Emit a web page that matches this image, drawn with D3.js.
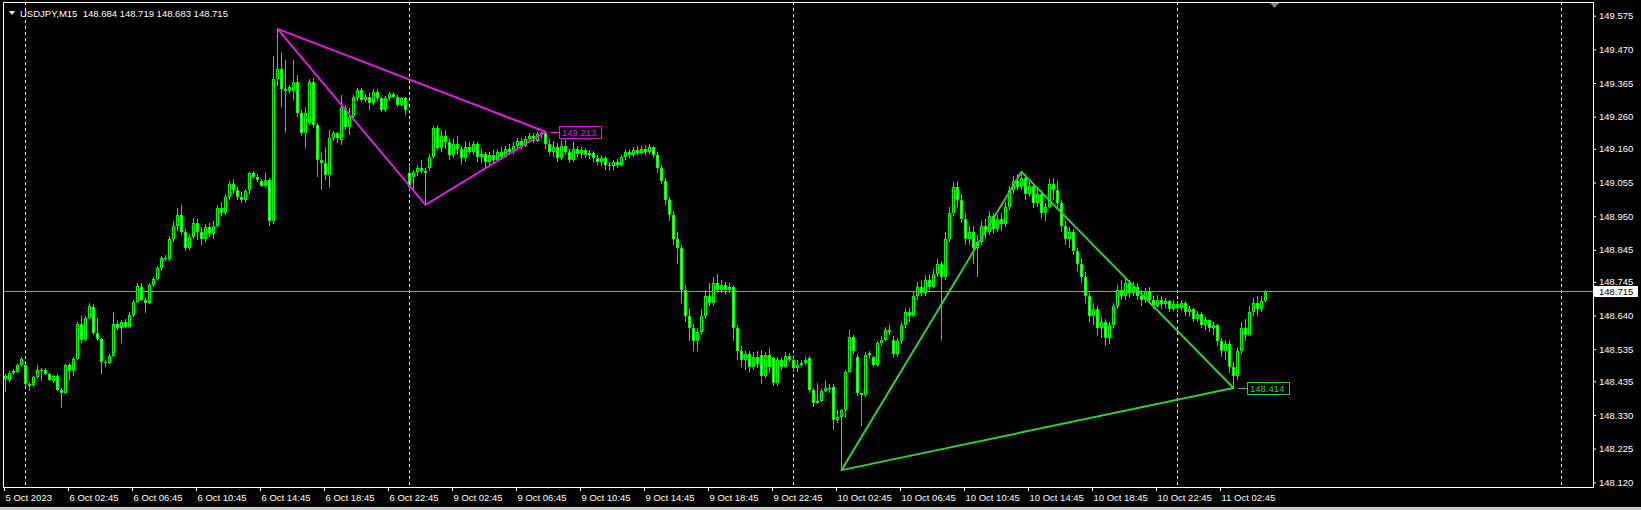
<!DOCTYPE html>
<html><head><meta charset="utf-8">
<script src="https://cdn.jsdelivr.net/npm/d3@7"></script>
<style>
html,body{margin:0;padding:0;background:#000;overflow:hidden;}
svg{display:block;}
text{font-family:"Liberation Sans",Arial,sans-serif;}
</style></head><body>
<svg id="chart" width="1641" height="510"></svg>
<script>
// ---------------- DATA ----------------
const symbolTitle = "USDJPY,M15";
const headerOHLC = ["148.684", "148.719", "148.683", "148.715"];

const openP = [
148.442,148.440,148.461,148.464,148.486,148.486,148.426,148.423,148.448,148.470,
148.471,148.458,148.437,148.452,148.409,148.398,148.486,148.467,148.505,148.614,
148.564,148.632,148.668,148.585,148.566,148.495,148.493,148.514,148.614,148.602,
148.620,148.605,148.642,148.682,148.730,148.690,148.680,148.736,148.754,148.787,
148.818,148.816,148.880,148.920,148.955,148.900,148.850,148.885,148.930,148.900,
148.880,148.915,148.895,148.920,148.975,148.960,149.010,149.050,149.030,149.010,
149.000,149.031,149.083,149.073,149.060,149.044,149.063,148.935,149.377,149.410,
149.345,149.340,149.340,149.369,149.271,149.208,149.240,149.369,149.234,149.125,
149.115,149.078,149.193,149.208,149.187,149.286,149.229,149.260,149.317,149.343,
149.312,149.323,149.302,149.338,149.317,149.281,149.317,149.331,149.323,149.297,
149.317,149.083,149.073,149.089,149.099,149.092,149.099,149.135,149.224,149.161,
149.200,149.180,149.140,149.175,149.160,149.130,149.165,149.150,149.175,149.135,
149.145,149.120,149.140,149.125,149.150,149.135,149.160,149.150,149.170,149.185,
149.170,149.190,149.200,149.185,149.205,149.210,149.175,149.150,149.165,149.130,
149.170,149.150,149.125,149.160,149.145,149.155,149.140,149.148,149.130,149.120,
149.132,149.110,149.105,149.118,149.110,149.135,149.150,149.140,149.155,149.148,
149.160,149.150,149.165,149.140,149.100,149.060,149.000,148.955,148.880,148.850,
148.720,148.640,148.600,148.560,148.590,148.640,148.700,148.680,148.740,148.720,
148.735,148.720,148.730,148.600,148.530,148.500,148.520,148.480,148.510,148.517,
148.450,148.517,148.507,148.429,148.500,148.480,148.515,148.502,148.475,148.485,
148.492,148.507,148.408,148.366,148.375,148.405,148.415,148.418,148.314,148.325,
148.346,148.465,148.574,148.512,148.398,148.392,148.517,148.510,148.485,148.553,
148.565,148.595,148.564,148.520,148.560,148.610,148.650,148.640,148.700,148.730,
148.710,148.750,148.730,148.770,148.800,148.760,148.880,148.960,149.040,149.000,
148.940,148.880,148.900,148.850,148.870,148.920,148.900,148.950,148.910,148.940,
148.925,148.980,149.030,149.060,149.040,149.070,149.020,149.045,148.990,149.020,
148.960,148.980,149.050,149.030,148.990,148.920,148.880,148.900,148.840,148.800,
148.760,148.700,148.640,148.660,148.600,148.620,148.570,148.610,148.670,148.720,
148.700,148.740,148.710,148.730,148.700,148.690,148.715,148.690,148.670,148.690,
148.675,148.685,148.660,148.675,148.665,148.680,148.650,148.660,148.630,148.645,
148.610,148.625,148.600,148.610,148.560,148.530,148.550,148.480,148.450,148.530,
148.600,148.580,148.650,148.680,148.660,148.684];

const highP = [
148.458,148.468,148.472,148.490,148.510,148.498,148.432,148.452,148.486,148.475,
148.475,148.462,148.456,148.458,148.414,148.490,148.492,148.510,148.620,148.640,
148.640,148.679,148.675,148.632,148.570,148.500,148.520,148.652,148.625,148.626,
148.630,148.650,148.690,148.741,148.740,148.695,148.742,148.760,148.795,148.825,
148.830,148.888,148.935,148.975,148.985,148.910,148.895,148.945,148.940,148.915,
148.925,148.930,148.935,148.985,148.995,149.020,149.060,149.065,149.040,149.025,
149.035,149.088,149.090,149.080,149.066,149.085,149.070,149.450,149.534,149.458,
149.437,149.360,149.437,149.390,149.280,149.291,149.378,149.380,149.240,149.146,
149.167,149.219,149.215,149.212,149.328,149.295,149.286,149.328,149.350,149.350,
149.330,149.333,149.345,149.345,149.322,149.325,149.338,149.336,149.328,149.322,
149.320,149.115,149.095,149.110,149.125,149.100,149.145,149.230,149.235,149.215,
149.220,149.190,149.190,149.200,149.170,149.185,149.180,149.185,149.180,149.160,
149.150,149.150,149.155,149.160,149.165,149.170,149.175,149.180,149.195,149.195,
149.200,149.210,149.208,149.212,149.213,149.212,149.190,149.185,149.178,149.185,
149.188,149.160,149.180,149.170,149.165,149.162,149.155,149.152,149.140,149.140,
149.138,149.120,149.125,149.128,149.142,149.160,149.158,149.165,149.168,149.170,
149.172,149.175,149.170,149.150,149.110,149.070,149.010,148.965,148.900,148.860,
148.735,148.660,148.615,148.600,148.660,148.720,148.740,148.760,148.770,148.750,
148.745,148.740,148.735,148.610,148.545,148.530,148.530,148.525,148.530,148.533,
148.525,148.540,148.510,148.510,148.510,148.525,148.522,148.510,148.500,148.500,
148.512,148.515,148.415,148.430,148.412,148.435,148.425,148.425,148.346,148.350,
148.470,148.595,148.580,148.520,148.400,148.525,148.530,148.515,148.560,148.575,
148.605,148.610,148.575,148.570,148.620,148.660,148.665,148.715,148.745,148.750,
148.765,148.770,148.785,148.815,148.810,148.900,148.980,149.055,149.060,149.020,
148.960,148.920,148.920,148.890,148.935,148.940,148.965,148.960,148.955,148.960,
148.995,149.045,149.075,149.080,149.088,149.080,149.060,149.050,149.035,149.030,
148.990,149.065,149.070,149.060,149.000,148.935,148.915,148.910,148.850,148.820,
148.775,148.710,148.680,148.670,148.635,148.630,148.620,148.680,148.735,148.750,
148.755,148.750,148.745,148.740,148.720,148.725,148.730,148.700,148.705,148.700,
148.695,148.690,148.690,148.685,148.690,148.685,148.670,148.665,148.655,148.650,
148.635,148.630,148.620,148.615,148.570,148.565,148.560,148.495,148.540,148.620,
148.630,148.670,148.695,148.700,148.700,148.719];

const lowP = [
148.402,148.432,148.455,148.460,148.480,148.420,148.405,148.418,148.444,148.437,
148.455,148.436,148.430,148.405,148.353,148.395,148.440,148.450,148.500,148.555,
148.560,148.628,148.580,148.560,148.457,148.480,148.488,148.510,148.595,148.554,
148.600,148.600,148.635,148.678,148.685,148.648,148.675,148.730,148.750,148.780,
148.810,148.810,148.870,148.905,148.890,148.840,148.845,148.880,148.875,148.860,
148.870,148.885,148.880,148.915,148.950,148.955,149.000,149.020,149.000,148.990,
148.990,149.020,149.065,149.055,149.040,149.040,148.920,148.925,149.355,149.291,
149.208,149.330,149.312,149.260,149.200,149.161,149.234,149.225,149.073,149.031,
149.063,149.042,149.185,149.177,149.172,149.220,149.203,149.250,149.310,149.305,
149.305,149.281,149.295,149.310,149.275,149.275,149.310,149.318,149.290,149.290,
149.265,149.030,149.035,149.075,149.085,148.986,149.090,149.130,149.155,149.150,
149.160,149.125,149.130,149.140,149.110,149.120,149.140,149.140,149.120,149.115,
149.100,149.105,149.115,149.120,149.125,149.130,149.140,149.145,149.160,149.160,
149.165,149.180,149.178,149.180,149.195,149.160,149.140,149.135,149.120,149.125,
149.140,149.115,149.120,149.135,149.130,149.130,149.128,149.118,149.110,149.105,
149.095,149.090,149.095,149.100,149.105,149.125,149.130,149.135,149.140,149.140,
149.142,149.145,149.130,149.085,149.050,148.985,148.935,148.860,148.800,148.680,
148.620,148.560,148.530,148.530,148.580,148.630,148.670,148.670,148.710,148.710,
148.705,148.710,148.560,148.500,148.480,148.470,148.465,148.470,148.475,148.425,
148.445,148.460,148.420,148.420,148.470,148.475,148.495,148.465,148.465,148.480,
148.485,148.400,148.355,148.365,148.370,148.402,148.400,148.283,148.305,148.158,
148.320,148.460,148.520,148.390,148.295,148.385,148.505,148.478,148.480,148.545,
148.560,148.580,148.510,148.510,148.550,148.600,148.620,148.635,148.690,148.700,
148.700,148.720,148.725,148.760,148.560,148.750,148.870,148.950,148.980,148.930,
148.860,148.860,148.800,148.760,148.860,148.880,148.890,148.895,148.900,148.905,
148.915,148.970,149.020,149.030,149.030,149.000,149.010,148.975,148.980,148.940,
148.935,148.975,149.000,148.970,148.900,148.860,148.850,148.830,148.780,148.740,
148.680,148.620,148.610,148.580,148.570,148.545,148.550,148.600,148.660,148.690,
148.690,148.695,148.700,148.690,148.670,148.680,148.680,148.660,148.665,148.660,
148.665,148.650,148.655,148.650,148.655,148.640,148.635,148.620,148.620,148.600,
148.595,148.590,148.580,148.545,148.510,148.500,148.460,148.414,148.440,148.520,
148.560,148.575,148.640,148.640,148.650,148.683];

const closeP = [
148.451,148.461,148.467,148.486,148.505,148.426,148.421,148.448,148.470,148.468,
148.458,148.440,148.452,148.409,148.400,148.485,148.467,148.505,148.614,148.564,
148.632,148.670,148.585,148.566,148.495,148.492,148.514,148.614,148.602,148.620,
148.605,148.642,148.682,148.733,148.690,148.680,148.736,148.754,148.787,148.818,
148.816,148.880,148.920,148.955,148.900,148.850,148.885,148.930,148.900,148.880,
148.915,148.895,148.920,148.975,148.960,149.010,149.050,149.030,149.010,149.000,
149.029,149.083,149.073,149.063,149.044,149.063,148.935,149.377,149.410,149.345,
149.340,149.354,149.369,149.271,149.208,149.271,149.369,149.234,149.125,149.115,
149.078,149.193,149.208,149.193,149.291,149.229,149.260,149.323,149.343,149.312,
149.323,149.302,149.338,149.317,149.281,149.317,149.331,149.323,149.297,149.317,
149.281,149.042,149.089,149.099,149.092,149.085,149.135,149.224,149.161,149.200,
149.180,149.140,149.175,149.160,149.130,149.165,149.150,149.175,149.135,149.145,
149.120,149.140,149.125,149.150,149.135,149.160,149.150,149.170,149.185,149.170,
149.190,149.200,149.185,149.205,149.210,149.175,149.150,149.165,149.130,149.170,
149.150,149.125,149.160,149.145,149.155,149.140,149.148,149.130,149.120,149.132,
149.110,149.105,149.118,149.110,149.135,149.150,149.140,149.155,149.148,149.160,
149.150,149.165,149.140,149.100,149.060,149.000,148.955,148.880,148.850,148.720,
148.640,148.600,148.560,148.590,148.640,148.700,148.680,148.740,148.720,148.735,
148.720,148.730,148.600,148.530,148.500,148.520,148.480,148.510,148.490,148.450,
148.517,148.480,148.429,148.500,148.480,148.515,148.502,148.475,148.485,148.492,
148.500,148.408,148.366,148.375,148.405,148.415,148.410,148.314,148.325,148.346,
148.465,148.574,148.530,148.398,148.392,148.517,148.522,148.485,148.553,148.565,
148.595,148.590,148.520,148.560,148.610,148.650,148.640,148.700,148.730,148.710,
148.750,148.730,148.770,148.800,148.760,148.880,148.960,149.040,149.000,148.940,
148.880,148.900,148.850,148.870,148.920,148.900,148.950,148.910,148.940,148.925,
148.980,149.030,149.060,149.040,149.070,149.020,149.045,148.990,149.020,148.960,
148.980,149.050,149.030,148.990,148.920,148.880,148.900,148.840,148.800,148.760,
148.700,148.640,148.660,148.600,148.620,148.570,148.610,148.670,148.720,148.700,
148.740,148.710,148.730,148.700,148.690,148.715,148.690,148.670,148.690,148.675,
148.685,148.660,148.675,148.665,148.680,148.650,148.660,148.630,148.645,148.610,
148.625,148.600,148.610,148.560,148.530,148.550,148.480,148.450,148.530,148.600,
148.580,148.650,148.680,148.660,148.684,148.715];

const timeLabels = ["5 Oct 2023","6 Oct 02:45","6 Oct 06:45","6 Oct 10:45","6 Oct 14:45",
  "6 Oct 18:45","6 Oct 22:45","9 Oct 02:45","9 Oct 06:45","9 Oct 10:45","9 Oct 14:45",
  "9 Oct 18:45","9 Oct 22:45","10 Oct 02:45","10 Oct 06:45","10 Oct 10:45","10 Oct 14:45",
  "10 Oct 18:45","10 Oct 22:45","11 Oct 02:45"];
const timeLabelBars = [0,16,32,48,64,80,96,112,128,144,160,176,192,208,224,240,256,272,288,304];
const daySeparatorBars = [5,101,197,293,389];

const priceTicks = [149.575,149.470,149.365,149.260,149.160,149.055,148.950,148.845,
  148.745,148.640,148.535,148.435,148.330,148.225,148.120];
const currentPrice = 148.715;

const magentaTriangle = [[68,149.534],[105,148.985],[135,149.213]];
const greenTriangle   = [[209,148.158],[254,149.088],[307,148.414]];
const priceLabelBars   = [135, 307];
const priceLabelValues = [149.213, 148.414];

// ---------------- LAYOUT / SCALES ----------------
const W = 1641, H = 510;
const plotL = 4, plotR = 1593, plotT = 2, plotB = 487;
const svg = d3.select("#chart");
svg.append("rect").attr("width", W).attr("height", H).attr("fill", "#000");

const x = d3.scaleLinear().domain([0, 1]).range([5.5, 9.5]);   // bar centre
const xTick = d3.scaleLinear().domain([0, 1]).range([4, 8]);   // axis tick position
const y = d3.scaleLinear().domain([148.120, 149.575]).range([482.3, 15.7]);

const LIME = "#00ff00", MAG = "#e01ee0", GRN = "#32cd32";

svg.append("clipPath").attr("id", "plotclip").append("rect")
  .attr("x", plotL).attr("y", plotT).attr("width", plotR - plotL).attr("height", plotB - plotT);
const plot = svg.append("g").attr("clip-path", "url(#plotclip)");

// period separators
plot.selectAll("line.sep").data(daySeparatorBars).enter().append("line")
  .attr("class", "sep")
  .attr("x1", d => Math.floor(x(d)) + 0.5).attr("x2", d => Math.floor(x(d)) + 0.5)
  .attr("y1", plotT).attr("y2", plotB)
  .attr("stroke", "#ffffff").attr("stroke-width", 1).attr("stroke-dasharray", "3,3")
  .attr("shape-rendering", "crispEdges");

// current price line
plot.append("line")
  .attr("x1", plotL).attr("x2", plotR)
  .attr("y1", Math.round(y(currentPrice)) + 0.5).attr("y2", Math.round(y(currentPrice)) + 0.5)
  .attr("stroke", "#9a9a9a").attr("stroke-width", 1).attr("shape-rendering", "crispEdges");

// candles
const bars = d3.range(closeP.length);
const cg = plot.append("g").attr("shape-rendering", "crispEdges");
bars.forEach(i => {
  const cx = Math.floor(x(i));
  const yh = Math.round(y(highP[i])), yl = Math.round(y(lowP[i]));
  const yo = Math.round(y(openP[i])), yc = Math.round(y(closeP[i]));
  cg.append("rect").attr("x", cx).attr("y", yh).attr("width", 1)
    .attr("height", Math.max(1, yl - yh)).attr("fill", LIME);
  const top = Math.min(yo, yc), h = Math.max(1, Math.abs(yo - yc));
  cg.append("rect").attr("x", cx - 1).attr("y", top).attr("width", 3)
    .attr("height", h).attr("fill", LIME);
  if (h > 2) {
    const bull = closeP[i] >= openP[i];
    cg.append("rect").attr("x", cx).attr("y", top + 1).attr("width", 1)
      .attr("height", h - 2).attr("fill", bull ? "#000000" : "#ffffff");
  }
});

// triangles
const line = d3.line().x(d => x(d[0])).y(d => y(d[1]));
plot.append("path").attr("d", line(magentaTriangle) + "Z")
  .attr("fill", "none").attr("stroke", MAG).attr("stroke-width", 2).attr("stroke-linejoin", "round");
plot.append("path").attr("d", line(greenTriangle) + "Z")
  .attr("fill", "none").attr("stroke", GRN).attr("stroke-width", 2).attr("stroke-linejoin", "round");

// price labels
const labCols = [MAG, GRN];
priceLabelBars.forEach((b, k) => {
  const vx = Math.floor(x(b)), vy = Math.round(y(priceLabelValues[k]));
  const g = svg.append("g").attr("shape-rendering", "crispEdges");
  g.append("line").attr("x1", vx + 5).attr("x2", vx + 14).attr("y1", vy + 0.5).attr("y2", vy + 0.5)
    .attr("stroke", labCols[k]).attr("stroke-width", 1);
  g.append("rect").attr("x", vx + 14.5).attr("y", vy - 5.5).attr("width", 42).attr("height", 12)
    .attr("fill", "#000").attr("stroke", labCols[k]).attr("stroke-width", 1);
  g.append("text").attr("x", vx + 17).attr("y", vy + 4)
    .attr("fill", labCols[k]).attr("font-size", "9.5px")
    .text(d3.format(".3f")(priceLabelValues[k]));
});

// frame
svg.append("rect").attr("x", plotL - 0.5).attr("y", plotT + 0.5)
  .attr("width", plotR - plotL + 1).attr("height", plotB - plotT)
  .attr("fill", "none").attr("stroke", "#ffffff").attr("stroke-width", 1)
  .attr("shape-rendering", "crispEdges");

// right price axis
const yAxis = d3.axisRight(y).tickValues(priceTicks).tickSize(3).tickPadding(3)
  .tickFormat(d3.format(".3f"));
const ya = svg.append("g").attr("transform", `translate(${plotR},0)`).call(yAxis);
ya.select(".domain").remove();
ya.selectAll(".tick line").attr("stroke", "#ffffff");
ya.selectAll(".tick text").attr("fill", "#ffffff").attr("font-size", "9.5px")
  .attr("font-family", "Liberation Sans, Arial, sans-serif");

// bottom time axis
const xAxis = d3.axisBottom(xTick).tickValues(timeLabelBars).tickSize(4).tickPadding(3)
  .tickFormat((d, i) => timeLabels[i]);
const xa = svg.append("g").attr("transform", `translate(0,${plotB})`).call(xAxis);
xa.select(".domain").remove();
xa.selectAll(".tick line").attr("stroke", "#ffffff");
xa.selectAll(".tick text").attr("fill", "#ffffff").attr("font-size", "9.5px")
  .attr("text-anchor", "start").attr("dx", "1")
  .attr("font-family", "Liberation Sans, Arial, sans-serif");

// current price box
const cpy = Math.round(y(currentPrice));
svg.append("rect").attr("x", plotR + 1).attr("y", cpy - 5).attr("width", 44).attr("height", 11)
  .attr("fill", "#ffffff").attr("shape-rendering", "crispEdges");
svg.append("text").attr("x", plotR + 6).attr("y", cpy + 4).attr("fill", "#000")
  .attr("font-size", "9.5px").text(d3.format(".3f")(currentPrice));

// header
svg.append("path").attr("d", "M9,11 L15,11 L12,15 Z").attr("fill", "#ffffff");
svg.append("text").attr("x", 20).attr("y", 16.5).attr("fill", "#ffffff")
  .attr("font-size", "9.5px").attr("xml:space", "preserve").style("white-space", "pre")
  .text(symbolTitle + "  " + headerOHLC.join(" "));

// chart shift marker
svg.append("path").attr("d", "M1270,3 L1279,3 L1274.5,8 Z").attr("fill", "#808080");

// window bottom edge
svg.append("rect").attr("x", 0).attr("y", 507).attr("width", W).attr("height", 3).attr("fill", "#c8c8c8");
</script>
</body></html>
